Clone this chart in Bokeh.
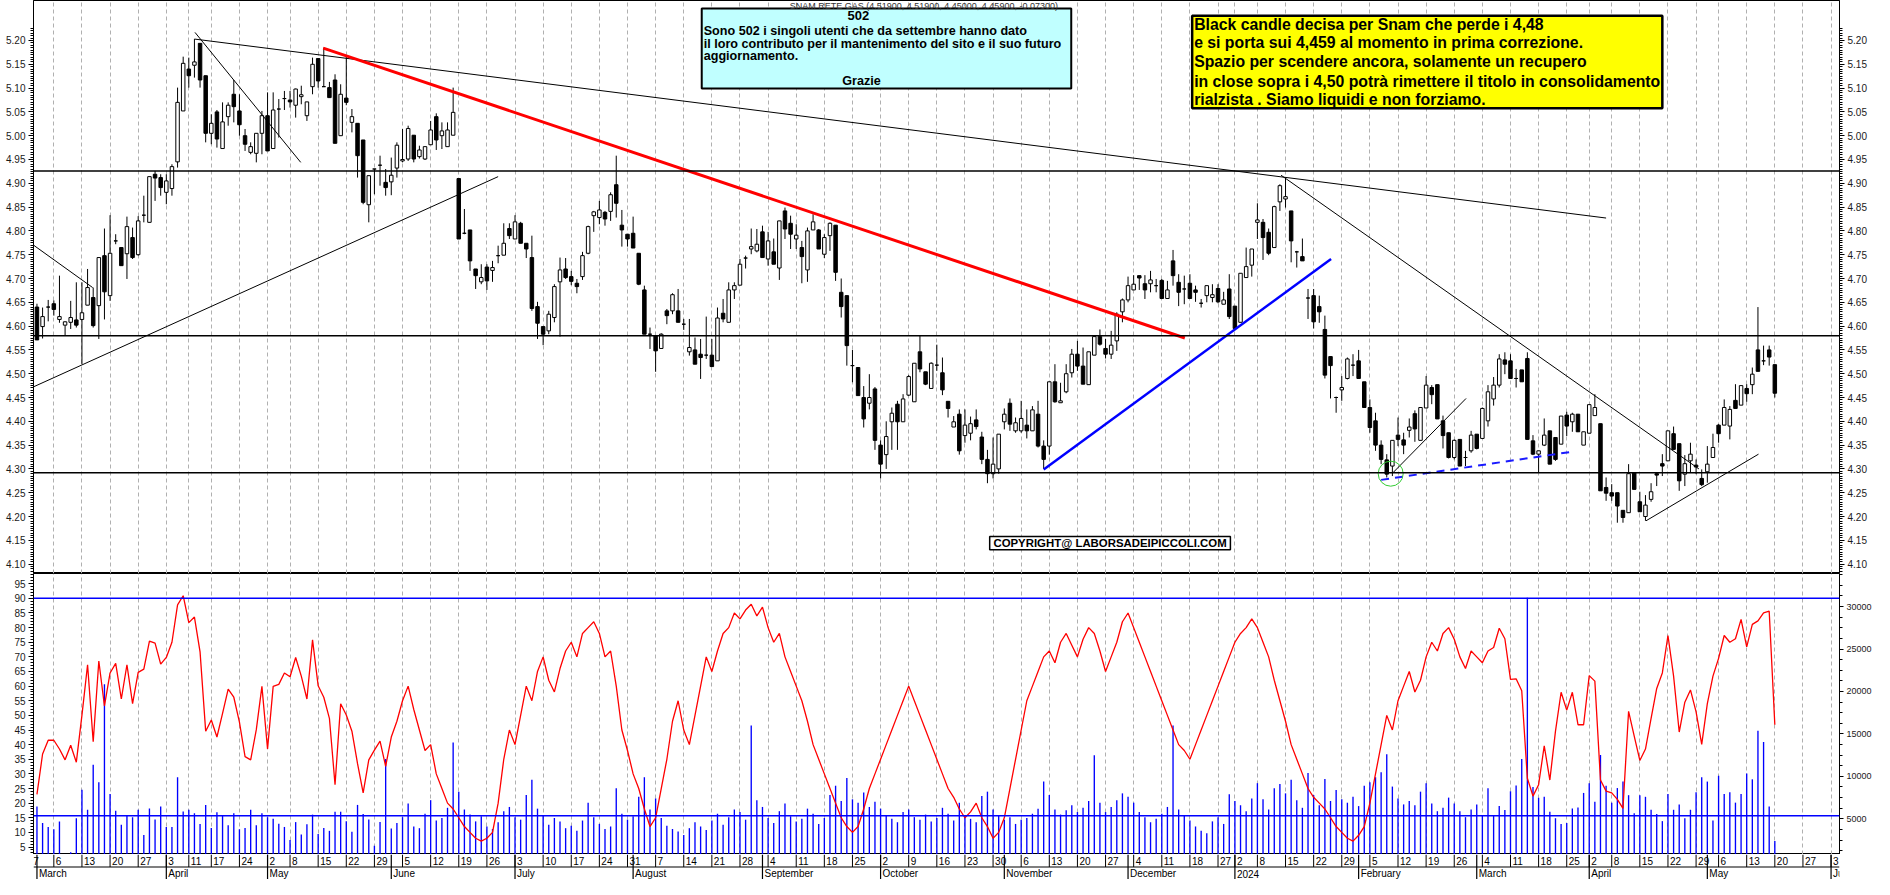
import pandas as pd
from bokeh.plotting import figure
from bokeh.layouts import column
from bokeh.models import (Range1d, LinearAxis, FixedTicker, Span, BoxAnnotation, Label,
                          ColumnDataSource, NumeralTickFormatter)
from bokeh.core.properties import value
from bokeh.embed import file_html
from bokeh.resources import INLINE

# ---------------- calendar (trading days, Borsa Italiana) ----------------
HOLIDAYS = ["2023-04-07", "2023-04-10", "2023-05-01", "2023-12-25", "2023-12-26",
            "2024-01-01", "2024-03-29", "2024-04-01", "2024-05-01"]
CAL_START = "2023-02-27"
CAL_END = "2024-06-07"
MONTH_NAMES = ["January", "February", "March", "April", "May", "June", "July", "August",
               "September", "October", "November", "December"]

# ---------------- price data (1 Mar 2023 .. 20 May 2024) ----------------
OPEN = [4.640, 4.599, 4.640, 4.647, 4.614, 4.602, 4.608, 4.613, 4.614, 4.644,
        4.660, 4.643, 4.748, 4.664, 4.779, 4.765, 4.752, 4.786, 4.750, 4.833,
        4.818, 4.919, 4.912, 4.881, 4.889, 4.945, 5.052, 5.140, 5.148, 5.194,
        5.126, 5.005, 5.050, 4.973, 5.040, 5.087, 5.052, 5.000, 4.965, 4.963,
        5.005, 5.042, 4.973, 5.056, 5.078, 5.075, 5.064, 5.082, 5.042, 5.103,
        5.162, 5.103, 5.101, 5.117, 5.000, 5.079, 5.028, 5.026, 4.991, 4.855,
        4.930, 4.938, 4.902, 4.903, 4.932, 4.947, 4.951, 5.001, 4.956, 4.951,
        4.981, 5.040, 5.000, 4.977, 5.001, 4.910, 4.795, 4.802, 4.720, 4.693,
        4.724, 4.717, 4.748, 4.749, 4.805, 4.783, 4.816, 4.774, 4.744, 4.641,
        4.599, 4.590, 4.618, 4.693, 4.720, 4.704, 4.690, 4.704, 4.753, 4.832,
        4.828, 4.839, 4.841, 4.897, 4.812, 4.793, 4.795, 4.753, 4.676, 4.583,
        4.580, 4.553, 4.632, 4.632, 4.632, 4.604, 4.546, 4.550, 4.541, 4.539,
        4.539, 4.527, 4.627, 4.608, 4.676, 4.686, 4.743, 4.762, 4.758, 4.798,
        4.741, 4.756, 4.722, 4.842, 4.816, 4.783, 4.765, 4.718, 4.802, 4.802,
        4.751, 4.790, 4.812, 4.671, 4.664, 4.517, 4.513, 4.450, 4.438, 4.468,
        4.350, 4.330, 4.399, 4.436, 4.399, 4.455, 4.441, 4.546, 4.504, 4.469,
        4.518, 4.502, 4.442, 4.388, 4.415, 4.370, 4.375, 4.403, 4.367, 4.320,
        4.290, 4.300, 4.399, 4.438, 4.380, 4.380, 4.392, 4.380, 4.415, 4.348,
        4.348, 4.483, 4.439, 4.462, 4.502, 4.541, 4.516, 4.477, 4.539, 4.578,
        4.553, 4.541, 4.569, 4.630, 4.655, 4.676, 4.706, 4.689, 4.689, 4.685,
        4.696, 4.658, 4.737, 4.692, 4.678, 4.690, 4.676, 4.648, 4.664, 4.660,
        4.679, 4.646, 4.678, 4.642, 4.608, 4.702, 4.728, 4.818, 4.818, 4.797,
        4.765, 4.861, 4.867, 4.842, 4.756, 4.746, 4.659, 4.664, 4.641, 4.593,
        4.536, 4.450, 4.466, 4.490, 4.518, 4.527, 4.483, 4.429, 4.401, 4.350,
        4.319, 4.306, 4.371, 4.361, 4.381, 4.416, 4.360, 4.428, 4.471, 4.477,
        4.401, 4.376, 4.324, 4.362, 4.324, 4.338, 4.373, 4.364, 4.401, 4.447,
        4.476, 4.529, 4.527, 4.490, 4.508, 4.532, 4.359, 4.331, 4.350, 4.380,
        4.366, 4.352, 4.413, 4.399, 4.415, 4.350, 4.375, 4.412, 4.395, 4.261,
        4.250, 4.250, 4.213, 4.208, 4.292, 4.231, 4.200, 4.236, 4.290, 4.311,
        4.317, 4.374, 4.353, 4.289, 4.317, 4.308, 4.280, 4.294, 4.324, 4.392,
        4.392, 4.390, 4.444, 4.434, 4.469, 4.477, 4.550, 4.527, 4.550, 4.519]
HIGH = [4.647, 4.639, 4.655, 4.654, 4.706, 4.610, 4.653, 4.692, 4.692, 4.720,
        4.681, 4.744, 4.805, 4.833, 4.793, 4.765, 4.830, 4.807, 4.831, 4.874,
        4.914, 4.926, 4.919, 4.919, 4.940, 5.101, 5.166, 5.164, 5.203, 5.194,
        5.126, 5.045, 5.054, 5.070, 5.070, 5.117, 5.087, 5.014, 4.986, 5.005,
        5.052, 5.091, 5.091, 5.077, 5.094, 5.094, 5.099, 5.105, 5.071, 5.164,
        5.162, 5.185, 5.113, 5.129, 5.108, 5.168, 5.056, 5.026, 4.991, 4.916,
        4.930, 4.958, 4.930, 4.954, 4.986, 5.014, 5.021, 5.001, 4.979, 4.977,
        5.031, 5.047, 5.028, 5.028, 5.101, 4.910, 4.846, 4.802, 4.720, 4.730,
        4.730, 4.737, 4.769, 4.816, 4.816, 4.833, 4.819, 4.774, 4.790, 4.651,
        4.599, 4.632, 4.688, 4.744, 4.743, 4.716, 4.699, 4.756, 4.811, 4.842,
        4.863, 4.842, 4.881, 4.958, 4.844, 4.793, 4.830, 4.753, 4.685, 4.597,
        4.580, 4.585, 4.636, 4.669, 4.678, 4.615, 4.615, 4.576, 4.573, 4.620,
        4.573, 4.639, 4.657, 4.692, 4.692, 4.741, 4.748, 4.805, 4.804, 4.811,
        4.798, 4.784, 4.821, 4.849, 4.832, 4.814, 4.779, 4.807, 4.835, 4.804,
        4.793, 4.818, 4.812, 4.700, 4.664, 4.550, 4.513, 4.474, 4.499, 4.472,
        4.360, 4.400, 4.429, 4.443, 4.457, 4.497, 4.522, 4.580, 4.504, 4.524,
        4.561, 4.534, 4.442, 4.411, 4.425, 4.425, 4.410, 4.425, 4.378, 4.340,
        4.366, 4.373, 4.427, 4.448, 4.408, 4.443, 4.425, 4.432, 4.443, 4.360,
        4.483, 4.520, 4.481, 4.520, 4.552, 4.569, 4.555, 4.546, 4.578, 4.593,
        4.573, 4.590, 4.629, 4.658, 4.704, 4.707, 4.706, 4.707, 4.716, 4.699,
        4.699, 4.695, 4.760, 4.709, 4.706, 4.709, 4.685, 4.657, 4.685, 4.688,
        4.688, 4.672, 4.709, 4.642, 4.711, 4.765, 4.762, 4.858, 4.825, 4.805,
        4.853, 4.898, 4.912, 4.842, 4.758, 4.784, 4.678, 4.678, 4.664, 4.622,
        4.536, 4.452, 4.495, 4.534, 4.541, 4.550, 4.483, 4.446, 4.418, 4.360,
        4.331, 4.360, 4.408, 4.376, 4.406, 4.423, 4.429, 4.495, 4.476, 4.477,
        4.412, 4.376, 4.362, 4.362, 4.338, 4.380, 4.373, 4.429, 4.476, 4.493,
        4.541, 4.545, 4.541, 4.510, 4.508, 4.545, 4.371, 4.338, 4.406, 4.380,
        4.366, 4.411, 4.420, 4.418, 4.415, 4.378, 4.436, 4.457, 4.395, 4.282,
        4.268, 4.250, 4.213, 4.310, 4.292, 4.252, 4.245, 4.270, 4.292, 4.331,
        4.380, 4.389, 4.353, 4.329, 4.355, 4.320, 4.299, 4.348, 4.374, 4.394,
        4.446, 4.432, 4.478, 4.475, 4.478, 4.513, 4.640, 4.559, 4.559, 4.519]
LOW = [4.571, 4.574, 4.610, 4.622, 4.607, 4.580, 4.594, 4.597, 4.520, 4.644,
       4.597, 4.573, 4.614, 4.653, 4.772, 4.727, 4.699, 4.741, 4.748, 4.818,
       4.818, 4.863, 4.874, 4.856, 4.874, 4.933, 5.052, 5.101, 5.122, 5.101,
       4.986, 4.982, 4.975, 4.973, 5.021, 5.028, 5.000, 4.968, 4.961, 4.944,
       4.961, 4.968, 4.973, 4.996, 5.054, 5.059, 5.038, 5.066, 5.031, 5.087,
       5.101, 5.103, 5.080, 4.984, 5.000, 5.064, 5.007, 4.912, 4.856, 4.818,
       4.877, 4.895, 4.874, 4.875, 4.912, 4.944, 4.947, 4.944, 4.952, 4.949,
       4.981, 4.970, 4.972, 4.977, 5.001, 4.783, 4.793, 4.716, 4.678, 4.688,
       4.676, 4.693, 4.732, 4.749, 4.783, 4.783, 4.774, 4.743, 4.632, 4.573,
       4.560, 4.583, 4.608, 4.578, 4.699, 4.686, 4.669, 4.697, 4.751, 4.798,
       4.814, 4.811, 4.821, 4.828, 4.767, 4.767, 4.764, 4.686, 4.583, 4.552,
       4.504, 4.552, 4.604, 4.625, 4.608, 4.592, 4.538, 4.520, 4.489, 4.531,
       4.515, 4.527, 4.608, 4.608, 4.657, 4.686, 4.721, 4.751, 4.755, 4.744,
       4.727, 4.730, 4.697, 4.783, 4.762, 4.762, 4.690, 4.693, 4.802, 4.762,
       4.743, 4.758, 4.695, 4.618, 4.517, 4.482, 4.454, 4.387, 4.425, 4.340,
       4.280, 4.300, 4.340, 4.340, 4.399, 4.453, 4.441, 4.503, 4.476, 4.468,
       4.506, 4.455, 4.408, 4.388, 4.330, 4.355, 4.360, 4.383, 4.310, 4.270,
       4.280, 4.290, 4.383, 4.380, 4.376, 4.376, 4.364, 4.380, 4.345, 4.300,
       4.330, 4.439, 4.439, 4.459, 4.492, 4.506, 4.478, 4.477, 4.539, 4.559,
       4.532, 4.531, 4.548, 4.608, 4.650, 4.676, 4.676, 4.657, 4.671, 4.671,
       4.657, 4.657, 4.685, 4.642, 4.646, 4.658, 4.651, 4.639, 4.650, 4.650,
       4.648, 4.646, 4.615, 4.593, 4.608, 4.702, 4.704, 4.783, 4.739, 4.749,
       4.765, 4.842, 4.849, 4.734, 4.723, 4.737, 4.615, 4.595, 4.607, 4.490,
       4.448, 4.418, 4.443, 4.488, 4.495, 4.490, 4.429, 4.376, 4.338, 4.310,
       4.282, 4.285, 4.348, 4.331, 4.366, 4.357, 4.360, 4.428, 4.436, 4.405,
       4.343, 4.322, 4.320, 4.306, 4.306, 4.334, 4.341, 4.364, 4.389, 4.433,
       4.471, 4.499, 4.489, 4.471, 4.483, 4.362, 4.329, 4.292, 4.348, 4.310,
       4.317, 4.352, 4.369, 4.378, 4.378, 4.350, 4.375, 4.412, 4.254, 4.233,
       4.233, 4.187, 4.187, 4.208, 4.257, 4.210, 4.191, 4.231, 4.264, 4.285,
       4.317, 4.341, 4.254, 4.264, 4.292, 4.289, 4.264, 4.271, 4.324, 4.355,
       4.392, 4.362, 4.427, 4.434, 4.441, 4.457, 4.505, 4.518, 4.517, 4.450]
CLOSE = [4.571, 4.620, 4.640, 4.635, 4.620, 4.609, 4.618, 4.602, 4.628, 4.681,
         4.601, 4.744, 4.672, 4.753, 4.779, 4.727, 4.809, 4.744, 4.821, 4.833,
         4.914, 4.911, 4.891, 4.905, 4.935, 5.070, 5.152, 5.126, 5.155, 5.117,
         5.005, 5.026, 4.993, 5.029, 5.064, 5.061, 5.023, 4.982, 4.977, 5.005,
         5.042, 4.968, 5.054, 5.056, 5.078, 5.071, 5.098, 5.086, 5.071, 5.150,
         5.115, 5.103, 5.080, 4.984, 5.087, 5.070, 5.040, 4.958, 4.860, 4.916,
         4.930, 4.938, 4.891, 4.917, 4.980, 4.950, 5.015, 4.951, 4.970, 4.977,
         5.012, 4.991, 5.010, 5.012, 5.049, 4.783, 4.795, 4.737, 4.706, 4.702,
         4.695, 4.723, 4.748, 4.774, 4.790, 4.819, 4.774, 4.762, 4.637, 4.606,
         4.583, 4.625, 4.683, 4.718, 4.702, 4.694, 4.683, 4.748, 4.809, 4.840,
         4.844, 4.825, 4.876, 4.858, 4.802, 4.783, 4.764, 4.688, 4.583, 4.583,
         4.548, 4.583, 4.622, 4.666, 4.608, 4.604, 4.555, 4.520, 4.534, 4.539,
         4.515, 4.617, 4.615, 4.676, 4.685, 4.730, 4.743, 4.767, 4.772, 4.744,
         4.779, 4.730, 4.821, 4.804, 4.793, 4.791, 4.746, 4.800, 4.819, 4.762,
         4.786, 4.816, 4.713, 4.641, 4.559, 4.517, 4.454, 4.405, 4.450, 4.360,
         4.310, 4.368, 4.417, 4.399, 4.447, 4.494, 4.522, 4.510, 4.478, 4.522,
         4.518, 4.466, 4.427, 4.399, 4.338, 4.392, 4.395, 4.389, 4.320, 4.290,
         4.310, 4.373, 4.415, 4.394, 4.397, 4.406, 4.380, 4.424, 4.348, 4.320,
         4.483, 4.441, 4.443, 4.500, 4.541, 4.516, 4.478, 4.546, 4.578, 4.562,
         4.541, 4.560, 4.625, 4.655, 4.685, 4.688, 4.701, 4.676, 4.697, 4.685,
         4.658, 4.676, 4.706, 4.671, 4.678, 4.658, 4.671, 4.648, 4.685, 4.666,
         4.651, 4.655, 4.620, 4.595, 4.711, 4.725, 4.762, 4.823, 4.786, 4.753,
         4.851, 4.895, 4.872, 4.779, 4.756, 4.737, 4.659, 4.609, 4.630, 4.497,
         4.517, 4.450, 4.471, 4.531, 4.518, 4.490, 4.429, 4.387, 4.350, 4.320,
         4.289, 4.360, 4.362, 4.350, 4.388, 4.384, 4.429, 4.476, 4.456, 4.405,
         4.370, 4.324, 4.360, 4.306, 4.324, 4.371, 4.343, 4.427, 4.462, 4.476,
         4.531, 4.520, 4.490, 4.490, 4.483, 4.362, 4.331, 4.338, 4.371, 4.310,
         4.320, 4.411, 4.390, 4.415, 4.378, 4.378, 4.435, 4.429, 4.254, 4.249,
         4.243, 4.222, 4.198, 4.290, 4.257, 4.210, 4.224, 4.252, 4.287, 4.306,
         4.380, 4.341, 4.275, 4.311, 4.331, 4.304, 4.267, 4.310, 4.345, 4.374,
         4.429, 4.425, 4.427, 4.475, 4.458, 4.499, 4.505, 4.527, 4.535, 4.459]

# ---------------- lower panel: volume (units) and oscillator ----------------
VOL_A = [6450, 4500, 4044, 3778, 4692, 700, 1067, 5070, 8434, 6068,
         11373, 9312, 20840, 7938, 5953, 4311, 5380, 5190, 6068, 3090,
         6220, 4923, 6450, 4044, 4044, 9885, 5877, 6068, 5648, 4388,
         6640, 3930, 5762, 5380, 4235, 5648, 3778, 3930, 6068, 4235,
         5648, 5190, 4999, 4426, 4044, 2518, 4616, 3167, 4350, 5495,
         3205, 3930, 3586, 5838, 5838, 4730, 3472, 6640, 5571, 4923,
         1830, 4616, 12060, 3854]
VOL_B = [4500, 5200, 6800, 4100, 3900, 5600, 7200, 4800, 5100, 6300,
         14000, 8200, 6100, 5500, 4700, 5300, 4100, 3800, 4600, 5900,
         6400, 5200, 4900, 7800, 9600, 6200, 5400, 4300, 5100, 4700,
         3900, 4200, 3600, 4800, 6900, 5200, 4400, 3800, 4100, 8600,
         5600, 4900, 5300, 7600, 9900, 6100, 7400, 5100, 4200, 3800,
         3500, 3100, 3900, 4600, 4100, 3700, 4800, 5600, 4300, 5200,
         6100, 5800, 4900, 16000, 7200, 6400, 5100, 4500, 5900, 6800,
         5300, 4700, 5000, 6200, 5600, 4400, 5100, 7800, 8900, 7100,
         9800, 7300, 6900, 8100, 6400, 7000, 6200, 5400, 5000, 4600,
         5800, 6100, 5200, 4900, 5500, 4700, 5100, 6300, 5600, 4800,
         6900, 5300, 5000, 4600, 7700, 8200, 6100, 5400, 4900, 5200,
         4400, 4900, 5100, 5600, 6200, 9400, 7800, 6100, 5500, 6000,
         6600, 5800, 6300, 7100, 12500, 6900, 5800, 6400, 7200, 8000,
         7600, 6900, 5800, 5200, 4600, 5000, 5600, 6400, 16000, 6100,
         5400, 4800, 4100, 3600, 3300, 4700, 5200, 4400, 7900, 7100,
         6600, 5900, 7400, 9200, 7300, 6100, 8600, 9100, 8000, 9600,
         7200, 6300, 10400, 7800, 6600, 9700, 7100, 8400, 7300, 6900,
         7600, 6500, 8900, 9300, 9900, 10500, 12600, 8800, 7400, 6700,
         7100, 6600, 8200, 9200, 6800, 5900, 6300, 7500, 6800, 5900,
         5200, 6100, 6700, 5400, 8600]
VOL_C = [5380, 6526, 6030, 8243, 8930, 12060, 31031, 8740, 7480, 7595,
         5838, 5075, 4388, 4503, 6220, 6335, 8052, 9197, 7022, 12518,
         8892, 6908, 8625, 9388, 7786, 5648, 7786, 7595, 6068, 5571,
         4730, 7938, 6068, 6678, 5075, 6068, 8129, 9885, 9388, 4807,
         10075, 7938, 8129, 6908, 7938, 10342, 9655, 15382, 14045, 6450,
         2404]
OSC_A = [23, 36.8, 41.5, 41.5, 38.5, 34.8, 39.8, 34, 50.1, 67.3,
         41, 68.6, 53.2, 64.5, 67.8, 55.6, 67.3, 54, 64.7, 65.8,
         75.4, 74.7, 67.5, 69.8, 75, 87.8, 90.9, 81.7, 83.6, 71.7,
         44.6, 48.4, 42.6, 50.7, 59, 56.2, 47.7, 35.9, 34.8, 45.1,
         59.9, 38.5, 59.9, 60.6, 64.5, 63.2, 69.8, 63.4, 55.6, 75.8,
         60.1, 56.2, 49, 26.3, 54, 50.1, 44.6, 33.5, 23.5, 34.8,
         38.1, 41.2, 32.6, 42.6]
OSC_B = [48, 55, 60, 52, 45, 38, 40, 30, 25, 20, 18, 15, 12, 10,
         8, 7, 8, 10, 20, 35, 45, 40, 50, 60, 55, 65, 70, 62, 58, 66, 72, 75, 70, 78, 80,
         82, 78, 70, 72, 60, 45, 38, 30, 25, 18, 12, 15,
         25, 35, 48, 55, 45, 40, 50, 60, 70, 65, 72, 78, 80, 85, 83, 86, 88, 84, 87, 80,
         75, 78, 70, 65, 60,
         55, 48, 40, 35, 30, 25, 20, 15, 12, 10, 12, 18, 25, 30, 35,
         40, 45, 50, 55, 60, 55, 50, 45, 40, 35, 30, 25, 22, 18, 15, 17, 20, 15, 12, 8,
         10, 15, 25, 35, 45,
         55, 60, 65, 70, 72, 68, 75, 78, 74, 70, 76, 80, 78, 72, 65, 70, 75, 82, 85, 80,
         75, 70, 65, 60, 55,
         50, 45, 40, 38, 35, 40, 45, 50, 55, 60, 65, 70, 75, 78, 80, 83, 80, 75, 70, 62,
         55, 48, 40, 35, 30,
         25, 22, 20, 18, 15, 12, 10, 8, 7, 9, 12, 20, 30, 40, 50, 45, 55, 60, 65, 58,
         62, 70, 75, 72, 78, 80, 76, 70, 66, 72, 70, 68, 72]
OSC_C = [73.2, 79.8, 76.2, 62.3, 62.5, 58.4, 28.5, 22.4, 26.3, 39.6,
         27.9, 44.6, 57.9, 51.8, 57.9, 46.8, 46.8, 63.6, 61.7, 27.9,
         24.1, 23.5, 21.3, 18.2, 51.4, 42.9, 34.6, 38.5, 49, 59.2,
         64.5, 77.3, 63.4, 44.3, 54.5, 58.7, 51.2, 40.1, 54, 63.4,
         69.5, 77.3, 75, 76.2, 82.8, 73.4, 81.1, 82.3, 85, 85.6,
         46.8]

# reference levels
H_LEVELS = [4.926, 4.580, 4.292]
OSC_LEVELS = [90, 15.7]

# trend lines drawn on the chart: (day index, price) end points
TREND_BLACK = [((28, 5.203), (279, 4.827)),
               ((28.1, 5.217), (46.9, 4.944)),
               ((-0.6, 4.4725), (82, 4.914)),
               ((-0.6, 4.770), (9.9, 4.681)),
               ((221.2, 4.917), (295.5, 4.300)),
               ((241.1, 4.292), (254.1, 4.448)),
               ((286.1, 4.191), (306.1, 4.331))]
TREND_RED = ((50.9, 5.184), (204.1, 4.575))
TREND_BLUE = ((179, 4.299), (230.1, 4.741))
TREND_BLUE_DASH = ((239, 4.277), (272.9, 4.336))
GREEN_MARK = (240.7, 4.290)

PRICE_TICKS = [round(4.10 + 0.05 * k, 2) for k in range(23)]
PRICE_MINOR = [round(4.08 + 0.005 * k, 3) for k in range(46 * 5)]
OSC_TICKS = list(range(5, 100, 5))
OSC_MINOR = list(range(1, 100))
VOL_TICKS = [5000, 10000, 15000, 20000, 25000, 30000]
VOL_MINOR = [1250 * k for k in range(1, 28)]

# ---------------- derived ----------------
cal = [d for d in pd.bdate_range(CAL_START, CAL_END) if d.strftime("%Y-%m-%d") not in HOLIDAYS]
cal_x = [k - 2 for k in range(len(cal))]
week_x, week_lbl, month_x, month_lbl = [], [], [], []
for k, d in enumerate(cal):
    if k == 0 or d.isocalendar()[1] != cal[k - 1].isocalendar()[1]:
        week_x.append(cal_x[k])
        week_lbl.append(str(d.day))
    if k > 0 and d.month != cal[k - 1].month:
        month_x.append(cal_x[k])
        month_lbl.append("2024" if (d.year == 2024 and d.month == 1) else MONTH_NAMES[d.month - 1])

VOL = VOL_A + VOL_B + VOL_C
OSC = OSC_A + OSC_B + OSC_C
n = len(CLOSE)
idx = list(range(n))

FONT = "Liberation Sans"
W = 1874
BL, BR = 33, 33
XR = Range1d(-0.615, 320.5)

# ---------------- price panel ----------------
p1 = figure(width=W, height=573, x_range=XR, y_range=Range1d(4.0803, 5.284),
            output_backend="svg", toolbar_location=None, x_axis_location=None,
            min_border_left=BL, min_border_right=BR, min_border_top=0, min_border_bottom=0)
p1.add_layout(LinearAxis(), "right")


def style_axis(ax, ticks, minor, fmt, size="10px", standoff=3):
    ax.ticker = FixedTicker(ticks=ticks, minor_ticks=minor)
    if fmt:
        ax.formatter = NumeralTickFormatter(format=fmt)
    ax.major_label_text_font = FONT
    ax.major_label_text_font_size = size
    ax.major_label_text_color = "#1a1a1a"
    ax.major_tick_out = 5
    ax.major_tick_in = 0
    ax.minor_tick_out = 3
    ax.minor_tick_in = 0
    ax.major_label_standoff = standoff
    ax.axis_line_color = "black"
    ax.major_tick_line_color = "black"
    ax.minor_tick_line_color = "black"


for ax in p1.yaxis:
    style_axis(ax, PRICE_TICKS, PRICE_MINOR, "0.00")

p1.ygrid.visible = False
p1.xgrid.ticker = FixedTicker(ticks=week_x)
p1.xgrid.grid_line_color = "#b0b0b0"
p1.xgrid.grid_line_dash = "4 3"
p1.xgrid.grid_line_width = 1
p1.outline_line_color = "black"
p1.background_fill_color = "white"
p1.border_fill_color = "white"

for lv in H_LEVELS:
    p1.add_layout(Span(location=lv, dimension="width", line_color="black", line_width=1.5))

top = [max(o, c) for o, c in zip(OPEN, CLOSE)]
bot = [min(o, c) for o, c in zip(OPEN, CLOSE)]
hi = [max(h, t) for h, t in zip(HIGH, top)]
lo = [min(l, b) for l, b in zip(LOW, bot)]
fill = ["white" if c >= o else "black" for o, c in zip(OPEN, CLOSE)]
src = ColumnDataSource(dict(x=idx, hi=hi, lo=lo, top=top, bot=bot, fill=fill))
p1.segment(x0="x", y0="hi", x1="x", y1="lo", source=src, line_color="black", line_width=1)
p1.vbar(x="x", width=0.62, top="top", bottom="bot", source=src,
        fill_color="fill", line_color="black", line_width=1)

for (a, b) in TREND_BLACK:
    p1.line([a[0], b[0]], [a[1], b[1]], line_color="black", line_width=1)
p1.line([TREND_RED[0][0], TREND_RED[1][0]], [TREND_RED[0][1], TREND_RED[1][1]],
        line_color="#ff0000", line_width=3)
p1.line([TREND_BLUE[0][0], TREND_BLUE[1][0]], [TREND_BLUE[0][1], TREND_BLUE[1][1]],
        line_color="#0000ff", line_width=2.5)
p1.line([TREND_BLUE_DASH[0][0], TREND_BLUE_DASH[1][0]], [TREND_BLUE_DASH[0][1], TREND_BLUE_DASH[1][1]],
        line_color="#1a1aff", line_width=2, line_dash="8 6")
p1.scatter([GREEN_MARK[0]], [GREEN_MARK[1]], marker="circle", size=25,
           fill_alpha=0, line_color="#33cc33", line_width=1)

# annotation boxes
p1.add_layout(BoxAnnotation(left=118.2, right=183.9, top=5.2672, bottom=5.0992,
                            fill_color="#c0ffff", fill_alpha=1, line_color="black",
                            line_alpha=1, line_width=2))
p1.add_layout(BoxAnnotation(left=205.4, right=289.0, top=5.2519, bottom=5.0578,
                            fill_color="#ffff00", fill_alpha=1, line_color="black",
                            line_alpha=1, line_width=2.5))
p1.add_layout(BoxAnnotation(left=169.4, right=212.2, top=4.158, bottom=4.130,
                            fill_color="white", fill_alpha=1, line_color="black",
                            line_alpha=1, line_width=1.5))


def lab(x, y, text, size, align="left", bold=True, color="black", baseline="middle"):
    p1.add_layout(Label(x=x, y=y, text=text, text_font=FONT, text_font_size=size,
                        text_font_style="bold" if bold else "normal", text_align=align,
                        text_baseline=baseline, text_color=color))


lab(133.85, 5.2714, "SNAM RETE GAS (4.51900, 4.51900, 4.45000, 4.45900, -0.07300)", "9px",
    bold=False, color="#333333", baseline="alphabetic")
lab(146.05, 5.2520, "502", "13px", align="center")
lab(118.55, 5.2204, "Sono 502 i singoli utenti che da settembre hanno dato", "12.6px")
lab(118.55, 5.1932, "il loro contributo per il mantenimento del sito e il suo futuro", "12.6px")
lab(118.55, 5.1679, "aggiornamento.", "12.6px")
lab(146.6, 5.1153, "Grazie", "12.6px", align="center")
yellow_lines = ["Black candle decisa per Snam che perde i 4,48",
                "e si porta sui 4,459 al momento in prima correzione.",
                "Spazio per scendere ancora, solamente un recupero",
                "in close sopra i 4,50 potrà rimettere il titolo in consolidamento",
                "rialzista . Siamo liquidi e non forziamo."]
for t, yy in zip(yellow_lines, [5.2342, 5.1958, 5.1553, 5.1132, 5.0754]):
    lab(205.75, yy, t, "15.8px")
lab(190.8, 4.144, "COPYRIGHT@ LABORSADEIPICCOLI.COM", "11.4px", align="center")

# ---------------- lower panel ----------------
p2 = figure(width=W, height=281, x_range=XR, y_range=Range1d(2.44, 98.5),
            output_backend="svg", toolbar_location=None, x_axis_location=None,
            min_border_left=BL, min_border_right=BR, min_border_top=0, min_border_bottom=0)
p2.extra_y_ranges = {"vol": Range1d(800, 33893)}
p2.add_layout(LinearAxis(y_range_name="vol"), "right")
style_axis(p2.yaxis[0], OSC_TICKS, OSC_MINOR, "0")
style_axis(p2.yaxis[1], VOL_TICKS, VOL_MINOR, "0", size="9px")
p2.yaxis[1].major_tick_out = 4
p2.ygrid.visible = False
p2.xgrid.ticker = FixedTicker(ticks=week_x)
p2.xgrid.grid_line_color = "#b0b0b0"
p2.xgrid.grid_line_dash = "4 3"
p2.outline_line_color = "black"

for lv in OSC_LEVELS:
    p2.add_layout(Span(location=lv, dimension="width", line_color="#0000ff", line_width=1.5))
p2.vbar(x=idx, top=VOL, bottom=0, width=0.24, y_range_name="vol",
        fill_color="#0000ff", line_color=None)
p2.line(idx, OSC, line_color="#ff0000", line_width=1.3)

# ---------------- date axis ----------------
p3 = figure(width=W, height=25, x_range=XR, y_range=Range1d(0, 25),
            output_backend="svg", toolbar_location=None, x_axis_location=None,
            y_axis_location=None, min_border_left=BL, min_border_right=BR,
            min_border_top=0, min_border_bottom=0)
p3.xgrid.visible = False
p3.ygrid.visible = False
p3.outline_line_color = None
p3.add_layout(Span(location=12.5, dimension="width", line_color="black", line_width=1.2))
p3.segment(x0=week_x, y0=[12.5] * len(week_x), x1=week_x, y1=[25] * len(week_x),
           line_color="black", line_width=1)
p3.segment(x0=month_x, y0=[0] * len(month_x), x1=month_x, y1=[25] * len(month_x),
           line_color="black", line_width=1.2)
p3.text(x=week_x, y=[18.5] * len(week_x), text=week_lbl, x_offset=2,
        text_font=value(FONT), text_font_size="10px", text_align="left",
        text_baseline="middle", text_color="black")
p3.text(x=month_x, y=[6] * len(month_x), text=month_lbl, x_offset=2,
        text_font=value(FONT), text_font_size="10px", text_align="left",
        text_baseline="middle", text_color="black")

layout = column(p1, p2, p3, spacing=0)
open("out.html", "w").write(file_html(layout, INLINE))
